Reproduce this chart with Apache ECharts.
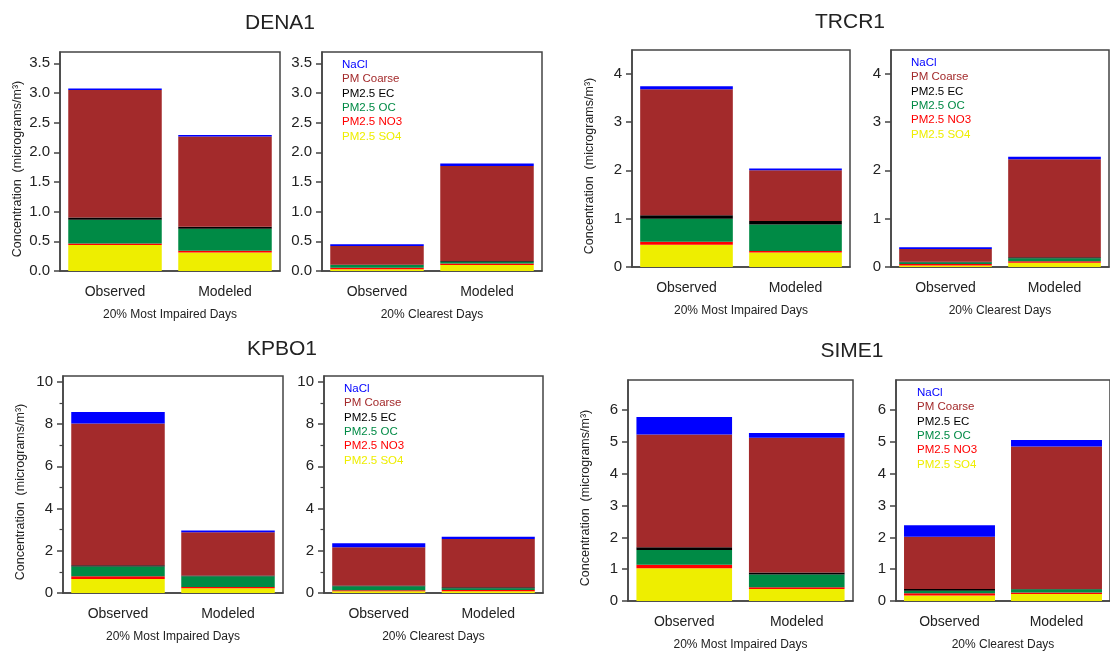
<!DOCTYPE html>
<html><head><meta charset="utf-8">
<script src="https://cdn.jsdelivr.net/npm/echarts@6/dist/echarts.min.js"></script>
<style>html,body{margin:0;padding:0;background:#fff}#c{width:1110px;height:652px}</style>
</head><body><div id="c"></div>
<script>
// ---------- DATA ----------
const categories = ['Observed', 'Modeled'];
// stacking order bottom -> top
const species = ['PM2.5 SO4', 'PM2.5 NO3', 'PM2.5 OC', 'PM2.5 EC', 'PM Coarse', 'NaCl'];
const legendOrder = ['NaCl', 'PM Coarse', 'PM2.5 EC', 'PM2.5 OC', 'PM2.5 NO3', 'PM2.5 SO4'];
const sites = ['DENA1', 'TRCR1', 'KPBO1', 'SIME1'];
const periods = ['20% Most Impaired Days', '20% Clearest Days'];
// each row = one species (SO4, NO3, OC, EC, Coarse, NaCl): [Observed, Modeled]
const dena1Impaired = [[0.44, 0.31], [0.025, 0.03], [0.40, 0.37], [0.035, 0.035], [2.15, 1.52], [0.025, 0.025]];
const dena1Clearest = [[0.03, 0.10], [0.025, 0.025], [0.045, 0.03], [0.005, 0.015], [0.315, 1.60], [0.03, 0.04]];
const trcr1Impaired = [[0.46, 0.30], [0.06, 0.03], [0.48, 0.55], [0.07, 0.07], [2.61, 1.05], [0.06, 0.04]];
const trcr1Clearest = [[0.03, 0.09], [0.03, 0.03], [0.04, 0.06], [0.01, 0.02], [0.26, 2.03], [0.04, 0.05]];
const kpbo1Impaired = [[0.66, 0.22], [0.13, 0.06], [0.47, 0.51], [0.05, 0.04], [6.72, 2.05], [0.55, 0.08]];
const kpbo1Clearest = [[0.08, 0.08], [0.05, 0.06], [0.19, 0.08], [0.04, 0.05], [1.81, 2.29], [0.19, 0.11]];
const sime1Impaired = [[1.03, 0.38], [0.11, 0.05], [0.46, 0.40], [0.09, 0.07], [3.55, 4.23], [0.55, 0.15]];
const sime1Clearest = [[0.17, 0.22], [0.07, 0.05], [0.08, 0.10], [0.06, 0.01], [1.64, 4.48], [0.36, 0.20]];
// y tick labels
const yTicksDena1 = [0, 0.5, 1, 1.5, 2, 2.5, 3, 3.5];
const yTicksTrcr1 = [0, 1, 2, 3, 4];
const yTicksKpbo1 = [0, 2, 4, 6, 8, 10];
const yMinorKpbo1 = [1, 3, 5, 7, 9];
const yTicksSime1 = [0, 1, 2, 3, 4, 5, 6];
const yMaxDena1 = 3.69, yMaxTrcr1 = 4.49, yMaxKpbo1 = 10.28, yMaxSime1 = 6.95;

// ---------- STYLE / LAYOUT ----------
const speciesColors = {
  'PM2.5 SO4': '#eeee00', 'PM2.5 NO3': '#ff0000', 'PM2.5 OC': '#008a45',
  'PM2.5 EC': '#000000', 'PM Coarse': '#a32a2b', 'NaCl': '#0000ff'
};
const FONT = 'Liberation Sans, Arial, sans-serif';
const AX = '#444';
const panels = [
  { site: 0, data: [dena1Impaired, dena1Clearest], ticks: yTicksDena1, minor: null, max: yMaxDena1, dec: 1,
    grids: [{ left: 60, top: 52, width: 220, height: 219 }, { left: 322, top: 52, width: 220, height: 219 }],
    title: [280, 24], legend: [342, 65] },
  { site: 1, data: [trcr1Impaired, trcr1Clearest], ticks: yTicksTrcr1, minor: null, max: yMaxTrcr1, dec: 0,
    grids: [{ left: 632, top: 50, width: 218, height: 217 }, { left: 891, top: 50, width: 218, height: 217 }],
    title: [850, 23], legend: [911, 63] },
  { site: 2, data: [kpbo1Impaired, kpbo1Clearest], ticks: yTicksKpbo1, minor: yMinorKpbo1, max: yMaxKpbo1, dec: 0,
    grids: [{ left: 63, top: 376, width: 220, height: 217 }, { left: 324, top: 376, width: 219, height: 217 }],
    title: [282, 350], legend: [344, 389] },
  { site: 3, data: [sime1Impaired, sime1Clearest], ticks: yTicksSime1, minor: null, max: yMaxSime1, dec: 0,
    grids: [{ left: 628, top: 380, width: 225, height: 224 }, { left: 896, top: 380, width: 226, height: 224 }],
    title: [852, 352], legend: [917, 393] }
];

const option = { animation: false, backgroundColor: '#fff', title: [], legend: [], grid: [], xAxis: [], yAxis: [], series: [] };

panels.forEach(p => {
  option.title.push({
    text: sites[p.site], left: p.title[0], top: p.title[1] - 11, textAlign: 'center', padding: 0,
    textStyle: { fontFamily: FONT, fontSize: 21, fontWeight: 'normal', color: '#222' }
  });
  option.legend.push({
    left: p.legend[0] - 5, top: p.legend[1] - 6, orient: 'vertical', padding: 0,
    icon: 'none', itemWidth: 0, itemHeight: 11, itemGap: 2.3, selectedMode: false,
    data: legendOrder.map(n => ({ name: n, textStyle: { color: speciesColors[n] } })),
    textStyle: { fontFamily: FONT, fontSize: 11.5 }
  });
  p.grids.forEach((g, k) => {
    const gi = option.grid.length;
    option.grid.push(Object.assign({ show: true, borderColor: AX, borderWidth: 1.5, backgroundColor: '#fff' }, g));
    option.xAxis.push({
      gridIndex: gi, type: 'category', data: categories,
      axisLine: { lineStyle: { color: AX, width: 1.5 } },
      axisTick: { alignWithLabel: true, length: 6, lineStyle: { color: AX, width: 1.5 } },
      axisLabel: { fontFamily: FONT, fontSize: 14, color: '#222', margin: 14 },
      name: periods[k], nameLocation: 'middle', nameGap: 38,
      nameTextStyle: { fontFamily: FONT, fontSize: 12, color: '#222' }
    });
    const yi = option.yAxis.length;
    option.yAxis.push({
      gridIndex: gi, type: 'value', min: 0, max: p.max,
      splitLine: { show: false },
      axisLine: { show: true, lineStyle: { color: AX, width: 1.5 } },
      axisTick: { show: true, length: 6, customValues: p.ticks, lineStyle: { color: AX, width: 1.5 } },
      axisLabel: { fontFamily: FONT, fontSize: 15, color: '#222', margin: 10, customValues: p.ticks,
                   formatter: v => Number(v).toFixed(p.dec) },
      name: k === 0 ? 'Concentration  (micrograms/m³)' : '', nameLocation: 'middle', nameGap: 36, nameRotate: 90,
      nameTextStyle: { fontFamily: FONT, fontSize: 12.5, color: '#222', padding: [0, 15, 0, 0] }
    });
    if (p.minor) {
      option.yAxis.push({
        gridIndex: gi, type: 'value', min: 0, max: p.max, position: 'left',
        splitLine: { show: false }, axisLine: { show: false }, axisLabel: { show: false },
        axisTick: { show: true, length: 3.5, customValues: p.minor, lineStyle: { color: AX, width: 1.2 } }
      });
    }
    const rows = p.data[k];
    species.forEach((s, si) => {
      option.series.push({
        type: 'bar', name: s, xAxisIndex: gi, yAxisIndex: yi, stack: 'g' + gi,
        barCategoryGap: '15%', data: rows[si],
        itemStyle: { color: speciesColors[s] }
      });
    });
  });
});

const chart = echarts.init(document.getElementById('c'), null, { renderer: 'canvas' });
chart.setOption(option);
</script></body></html>
